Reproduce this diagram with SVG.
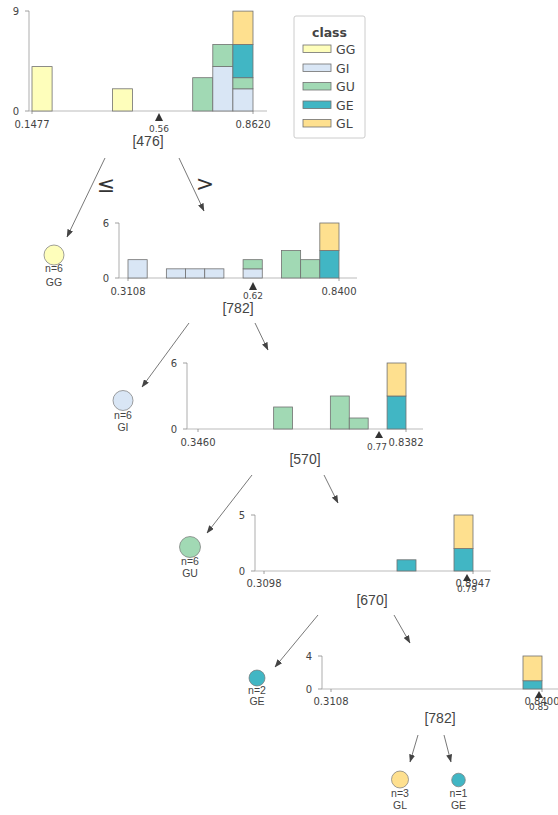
<svg xmlns="http://www.w3.org/2000/svg" width="558" height="815" viewBox="0 0 558 815">
  <style>
    .gg { fill: #FEFEBB; }
    .gi { fill: #D9E6F5; }
    .gu { fill: #A1D9B4; }
    .ge { fill: #41B6C4; }
    .gl { fill: #FEE08F; }
    .bar { stroke: #707070; stroke-width: 0.8; }
    .axis { stroke: #BBBBBB; stroke-width: 1.2; fill: none; }
    .tick { stroke: #888888; stroke-width: 0.8; }
    .tl { font-family: "DejaVu Sans", sans-serif; font-size: 10px; fill: #444444; }
    .sv { font-family: "DejaVu Sans", sans-serif; font-size: 9px; fill: #444444; text-anchor: middle; }
    .feat { font-family: "Liberation Sans", Arial, sans-serif; font-size: 14px; fill: #444444; text-anchor: middle; }
    .leaf { stroke: #777777; stroke-width: 0.7; }
    .ll { font-family: "Liberation Sans", Arial, sans-serif; font-size: 10.5px; fill: #444444; text-anchor: middle; }
    .split { fill: #333333; }
    .edge { stroke: #555555; stroke-width: 0.8; fill: none; marker-end: url(#head); }
    .op { font-family: "DejaVu Sans", sans-serif; font-size: 22px; fill: #333333; text-anchor: middle; }
    .lg { font-family: "DejaVu Sans", sans-serif; font-size: 12.5px; fill: #444444; }
  </style>
  <defs>
    <marker id="head" markerUnits="userSpaceOnUse" markerWidth="8" markerHeight="6" refX="7.5" refY="3" orient="auto">
      <path d="M0,0 L8,3 L0,6 z" fill="#444444"/>
    </marker>
  </defs>

  <!-- connectors -->
  <g id="edges">
    <line class="edge" x1="105" y1="158" x2="67" y2="237"/>
    <line class="edge" x1="179" y1="158" x2="204" y2="211"/>
    <line class="edge" x1="189" y1="323" x2="142" y2="387"/>
    <line class="edge" x1="255" y1="323" x2="268" y2="350"/>
    <line class="edge" x1="252" y1="475" x2="207" y2="533"/>
    <line class="edge" x1="324" y1="475" x2="338" y2="503"/>
    <line class="edge" x1="318" y1="615" x2="275" y2="667"/>
    <line class="edge" x1="394" y1="615" x2="410" y2="643"/>
    <line class="edge" x1="418" y1="735" x2="410" y2="762"/>
    <line class="edge" x1="444" y1="735" x2="451" y2="762"/>
    <text class="op" x="106" y="192">≤</text>
    <text class="op" x="205" y="191">&gt;</text>
  </g>

  <!-- root split on [476] -->
  <g id="node0">
    <line class="axis" x1="29" y1="11" x2="29" y2="111"/>
    <line class="axis" x1="29" y1="111" x2="267" y2="111"/>
    <line class="tick" x1="25" y1="11" x2="29" y2="11"/>
    <line class="tick" x1="25" y1="111" x2="29" y2="111"/>
    <line class="tick" x1="32" y1="111" x2="32" y2="114"/>
    <line class="tick" x1="253" y1="111" x2="253" y2="114"/>
    <text class="tl" x="19" y="14.5" text-anchor="end">9</text>
    <text class="tl" x="19" y="114.5" text-anchor="end">0</text>
    <rect class="bar gg" x="32" y="66.6" width="20.1" height="44.4"/>
    <rect class="bar gg" x="112.4" y="88.8" width="20.1" height="22.2"/>
    <rect class="bar gu" x="192.7" y="77.7" width="20.1" height="33.3"/>
    <rect class="bar gi" x="212.8" y="66.6" width="20.1" height="44.4"/>
    <rect class="bar gu" x="212.8" y="44.4" width="20.1" height="22.2"/>
    <rect class="bar gi" x="232.9" y="88.8" width="20.1" height="22.2"/>
    <rect class="bar gu" x="232.9" y="77.7" width="20.1" height="11.1"/>
    <rect class="bar ge" x="232.9" y="44.4" width="20.1" height="33.3"/>
    <rect class="bar gl" x="232.9" y="11.1" width="20.1" height="33.3"/>
    <text class="tl" x="32" y="128" text-anchor="middle">0.1477</text>
    <text class="tl" x="253" y="128" text-anchor="middle">0.8620</text>
    <path class="split" d="M159,113 L163,121 L155,121 z"/>
    <text class="sv" x="159" y="132">0.56</text>
    <text class="feat" x="148" y="146">[476]</text>
  </g>

  <!-- leaf GG -->
  <g id="node1">
    <circle class="leaf gg" cx="54" cy="255" r="10"/>
    <text class="ll" x="54" y="272">n=6</text>
    <text class="ll" x="54" y="286">GG</text>
  </g>

  <!-- split on [782] -->
  <g id="node2">
    <line class="axis" x1="119" y1="223" x2="119" y2="278"/>
    <line class="axis" x1="119" y1="278" x2="357" y2="278"/>
    <line class="tick" x1="115" y1="223" x2="119" y2="223"/>
    <line class="tick" x1="115" y1="278" x2="119" y2="278"/>
    <line class="tick" x1="128" y1="278" x2="128" y2="281"/>
    <line class="tick" x1="339" y1="278" x2="339" y2="281"/>
    <text class="tl" x="109" y="226.5" text-anchor="end">6</text>
    <text class="tl" x="109" y="281.5" text-anchor="end">0</text>
    <rect class="bar gi" x="128" y="259.67" width="19.18" height="18.33"/>
    <rect class="bar gi" x="166.36" y="268.83" width="19.18" height="9.17"/>
    <rect class="bar gi" x="185.55" y="268.83" width="19.18" height="9.17"/>
    <rect class="bar gi" x="204.73" y="268.83" width="19.18" height="9.17"/>
    <rect class="bar gi" x="243.09" y="268.83" width="19.18" height="9.17"/>
    <rect class="bar gu" x="243.09" y="259.67" width="19.18" height="9.17"/>
    <rect class="bar gu" x="281.45" y="250.5" width="19.18" height="27.5"/>
    <rect class="bar gu" x="300.64" y="259.67" width="19.18" height="18.33"/>
    <rect class="bar ge" x="319.82" y="250.5" width="19.18" height="27.5"/>
    <rect class="bar gl" x="319.82" y="223" width="19.18" height="27.5"/>
    <text class="tl" x="128" y="295" text-anchor="middle">0.3108</text>
    <text class="tl" x="339" y="295" text-anchor="middle">0.8400</text>
    <path class="split" d="M253,282 L257,290 L249,290 z"/>
    <text class="sv" x="253" y="299">0.62</text>
    <text class="feat" x="238" y="313">[782]</text>
  </g>

  <!-- leaf GI -->
  <g id="node3">
    <circle class="leaf gi" cx="123" cy="400.5" r="10"/>
    <text class="ll" x="123" y="419">n=6</text>
    <text class="ll" x="123" y="431">GI</text>
  </g>

  <!-- split on [570] -->
  <g id="node4">
    <line class="axis" x1="187" y1="363" x2="187" y2="429"/>
    <line class="axis" x1="187" y1="429" x2="423" y2="429"/>
    <line class="tick" x1="183" y1="363" x2="187" y2="363"/>
    <line class="tick" x1="183" y1="429" x2="187" y2="429"/>
    <line class="tick" x1="198" y1="429" x2="198" y2="432"/>
    <line class="tick" x1="406" y1="429" x2="406" y2="432"/>
    <text class="tl" x="177" y="366.5" text-anchor="end">6</text>
    <text class="tl" x="177" y="432.5" text-anchor="end">0</text>
    <rect class="bar gu" x="273.64" y="407" width="18.91" height="22"/>
    <rect class="bar gu" x="330.36" y="396" width="18.91" height="33"/>
    <rect class="bar gu" x="349.27" y="418" width="18.91" height="11"/>
    <rect class="bar ge" x="387.09" y="396" width="18.91" height="33"/>
    <rect class="bar gl" x="387.09" y="363" width="18.91" height="33"/>
    <text class="tl" x="198" y="446" text-anchor="middle">0.3460</text>
    <text class="tl" x="406" y="446" text-anchor="middle">0.8382</text>
    <path class="split" d="M379,431 L383,438 L375,438 z"/>
    <text class="sv" x="377" y="450">0.77</text>
    <text class="feat" x="305" y="464">[570]</text>
  </g>

  <!-- leaf GU -->
  <g id="node5">
    <circle class="leaf gu" cx="190" cy="547" r="10.5"/>
    <text class="ll" x="190" y="565">n=6</text>
    <text class="ll" x="190" y="577">GU</text>
  </g>

  <!-- split on [670] -->
  <g id="node6">
    <line class="axis" x1="255" y1="515" x2="255" y2="571"/>
    <line class="axis" x1="255" y1="571" x2="491" y2="571"/>
    <line class="tick" x1="251" y1="515" x2="255" y2="515"/>
    <line class="tick" x1="251" y1="571" x2="255" y2="571"/>
    <line class="tick" x1="264" y1="571" x2="264" y2="574"/>
    <line class="tick" x1="473" y1="571" x2="473" y2="574"/>
    <text class="tl" x="245" y="518.5" text-anchor="end">5</text>
    <text class="tl" x="245" y="574.5" text-anchor="end">0</text>
    <rect class="bar ge" x="397" y="559.8" width="19" height="11.2"/>
    <rect class="bar ge" x="454" y="548.6" width="19" height="22.4"/>
    <rect class="bar gl" x="454" y="515" width="19" height="33.6"/>
    <text class="tl" x="264" y="587" text-anchor="middle">0.3098</text>
    <text class="tl" x="473" y="587" text-anchor="middle">0.8947</text>
    <path class="split" d="M467,574 L471,581 L463,581 z"/>
    <text class="sv" x="467" y="592">0.79</text>
    <text class="feat" x="372" y="605">[670]</text>
  </g>

  <!-- leaf GE (n=2) -->
  <g id="node7">
    <circle class="leaf ge" cx="257" cy="678" r="8"/>
    <text class="ll" x="257" y="694">n=2</text>
    <text class="ll" x="257" y="705">GE</text>
  </g>

  <!-- split on [782] -->
  <g id="node8">
    <line class="axis" x1="322" y1="656" x2="322" y2="689"/>
    <line class="axis" x1="322" y1="689" x2="558" y2="689"/>
    <line class="tick" x1="318" y1="656" x2="322" y2="656"/>
    <line class="tick" x1="318" y1="689" x2="322" y2="689"/>
    <line class="tick" x1="331" y1="689" x2="331" y2="692"/>
    <line class="tick" x1="542" y1="689" x2="542" y2="692"/>
    <text class="tl" x="312" y="659.5" text-anchor="end">4</text>
    <text class="tl" x="312" y="692.5" text-anchor="end">0</text>
    <rect class="bar ge" x="523" y="680.75" width="19" height="8.25"/>
    <rect class="bar gl" x="523" y="656" width="19" height="24.75"/>
    <text class="tl" x="331" y="705" text-anchor="middle">0.3108</text>
    <text class="tl" x="542" y="705" text-anchor="middle">0.8400</text>
    <path class="split" d="M539,691 L543,698 L535,698 z"/>
    <text class="sv" x="539" y="710">0.85</text>
    <text class="feat" x="440" y="723">[782]</text>
  </g>

  <!-- leaf GL -->
  <g id="node9">
    <circle class="leaf gl" cx="400" cy="779.5" r="8.5"/>
    <text class="ll" x="400" y="797">n=3</text>
    <text class="ll" x="400" y="809">GL</text>
  </g>

  <!-- leaf GE (n=1) -->
  <g id="node10">
    <circle class="leaf ge" cx="458.5" cy="780" r="6.8"/>
    <text class="ll" x="458.5" y="797">n=1</text>
    <text class="ll" x="458.5" y="809">GE</text>
  </g>

  <!-- class legend -->
  <g id="legend">
    <rect x="294" y="16" width="71" height="122" rx="2" fill="#FFFFFF" stroke="#CCCCCC" stroke-width="1"/>
    <text x="329.5" y="37" font-family="DejaVu Sans, sans-serif" font-size="12.5" font-weight="bold" fill="#444444" text-anchor="middle">class</text>
    <rect class="bar gg" x="303" y="45" width="28" height="7.5"/>
    <text class="lg" x="336" y="54">GG</text>
    <rect class="bar gi" x="303" y="64" width="28" height="7.5"/>
    <text class="lg" x="336" y="72.5">GI</text>
    <rect class="bar gu" x="303" y="82.5" width="28" height="7.5"/>
    <text class="lg" x="336" y="91">GU</text>
    <rect class="bar ge" x="303" y="101" width="28" height="7.5"/>
    <text class="lg" x="336" y="109.5">GE</text>
    <rect class="bar gl" x="303" y="119.5" width="28" height="7.5"/>
    <text class="lg" x="336" y="128">GL</text>
  </g>
</svg>
